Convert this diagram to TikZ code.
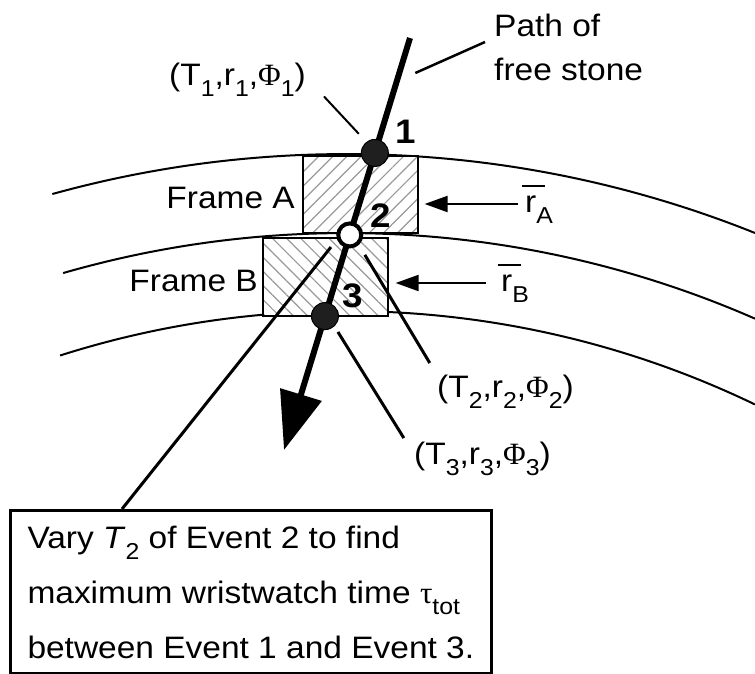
\documentclass[tikz,border=0pt]{standalone}
\usepackage{fontspec}
\setmainfont{Liberation Sans}[FakeStretch=1.08]
\newfontfamily\greekfont{Liberation Serif}
\usetikzlibrary{calc}
\usetikzlibrary{positioning}
\usetikzlibrary{arrows.meta}
\usetikzlibrary{patterns.meta}

\newcommand{\dn}[1]{\raisebox{-0.38em}{\fontsize{23}{23}\selectfont #1}}
\newcommand{\rbar}{\leavevmode\rlap{\hspace{-0.1em}\rule[0.8em]{0.75em}{0.065em}}r}

\begin{document}
\begin{tikzpicture}[x=1pt, y=1pt,
        every node/.style={inner sep=0pt, font=\fontsize{31}{55}\selectfont},
        ring/.style={line width=2pt},
        frame/.style={draw, line width=1.5pt, preaction={fill=white}, pattern color=gray!80},
        leader/.style={line width=2.5pt},
        rarrow/.style={line width=2pt, -{Triangle[length=23pt,width=16pt]}},
        stone/.style={line width=6pt, -{Triangle[length=58pt,width=42pt]}},
        event/.style={circle, draw, line width=1pt, fill=black!88, minimum size=27pt},
        num/.style={anchor=base west, font=\fontsize{34}{34}\selectfont\bfseries}]
            \useasboundingbox (0,0) rectangle (755,-673);

            \coordinate (ctr) at (346,-1253);
            \draw[ring] ($(ctr) + (105.5:1099)$) arc[start angle=105.5, end angle=68.15, radius=1099];
            \draw[ring] ($(ctr) + (106.1:1020)$) arc[start angle=106.1, end angle=66.36, radius=1020];
            \draw[ring] ($(ctr) + (107.67:942)$) arc[start angle=107.67, end angle=64.27, radius=942];

            \node[frame, pattern={Lines[angle=45, distance=10pt, line width=1.2pt]},
                minimum width=115pt, minimum height=77pt] (frA) at (360.5,-194.5) {};
            \node[frame, pattern={Lines[angle=-45, distance=10pt, line width=1.2pt]},
                minimum width=125pt, minimum height=78pt] (frB) at (325.5,-277) {};

            \node[anchor=base east] (labA) at (295,-208) {Frame A};
            \node[anchor=base east] (labB) at (258,-291) {Frame B};

            \node[anchor=base west] (rA) at (525,-212) {\rbar\dn{A}};
            \node[anchor=base west] (rB) at (501,-291) {\rbar\dn{B}};
            \draw[rarrow, shorten >=6pt] ($(rA.base west) + (-7,8)$) coordinate (rAs) -- (rAs -| frA.east);
            \draw[rarrow, shorten >=7pt] ($(rB.base west) + (-15,8)$) coordinate (rBs) -- (rBs -| frB.east);

            \coordinate (top) at (410,-38);
            \coordinate (tip) at (284,-450);
            \draw[stone] (top) -- (tip);

            \node[event] (ev1) at ($(top)!0.279!(tip)$) {};
            \node[event, fill=white, line width=4pt, minimum size=23pt] (ev2) at ($(top)!0.478!(tip)$) {};
            \node[event] (ev3) at ($(top)!0.675!(tip)$) {};

            \node[num] (n1) at (395,-143) {1};
            \node[num] (n2) at (370,-227) {2};
            \node[num] (n3) at (342,-307) {3};

            \node[anchor=base west, align=left, font=\fontsize{31}{44}\selectfont] (pathlab) at (494,-80) {Path of\\free stone};
            \node[anchor=base west] (lab1) at (169,-85) {(T\dn{1},r\dn{1},{\greekfont Φ}\dn{1})};
            \node[anchor=base west] (lab2) at (437,-397) {(T\dn{2},r\dn{2},{\greekfont Φ}\dn{2})};
            \node[anchor=base west] (lab3) at (414,-464) {(T\dn{3},r\dn{3},{\greekfont Φ}\dn{3})};

            \node[draw, line width=3pt, anchor=north west, minimum height=163pt,
                inner xsep=17pt, align=left] (box) at (9,-509)
                {Vary \textit{T}\dn{2} of Event 2 to find\\
                 maximum wristwatch time {\greekfont τ}\dn{tot}\\
                 between Event 1 and Event 3.};

            \draw[leader] ($(top)!0.085!(tip) + (16,0)$) -- ($(pathlab.base west) + (-9,38)$);
            \draw[leader, line width=2pt] ($(ev1) + (130:25)$) -- ($(ev1) + (132:76)$);
            \draw[leader, line width=3pt] ($(ev2) + (-52.9:25)$) -- ($(ev2) + (-58:151)$);
            \draw[leader, line width=3pt] ($(ev3) + (-50.7:20.5)$) -- ($(ev3) + (-57.1:145.3)$);
            \draw[leader, line width=3pt] ($(ev2) + (212.8:22.4)$) -- ($(box.north west) + (113,0)$);
        \end{tikzpicture}
\end{document}
